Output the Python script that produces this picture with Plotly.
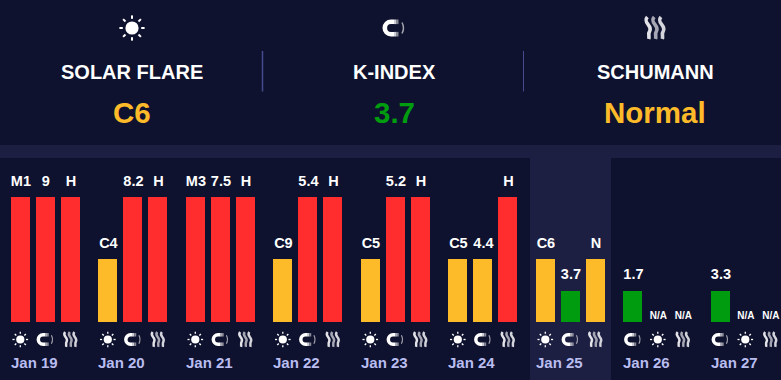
import plotly.graph_objects as go

# ---- data ----
days = ["Jan 19", "Jan 20", "Jan 21", "Jan 22", "Jan 23", "Jan 24", "Jan 25", "Jan 26", "Jan 27"]
metric_order = [
    ["sun", "magnet", "wave"], ["sun", "magnet", "wave"], ["sun", "magnet", "wave"],
    ["sun", "magnet", "wave"], ["sun", "magnet", "wave"], ["sun", "magnet", "wave"],
    ["sun", "magnet", "wave"], ["magnet", "sun", "wave"], ["magnet", "sun", "wave"],
]
levels = [
    [4, 4, 4], [2, 4, 4], [4, 4, 4], [2, 4, 4], [2, 4, 4],
    [2, 2, 4], [2, 1, 2], [1, 0, 0], [1, 0, 0],
]
labels = [
    ["M1", "9", "H"], ["C4", "8.2", "H"], ["M3", "7.5", "H"], ["C9", "5.4", "H"], ["C5", "5.2", "H"],
    ["C5", "4.4", "H"], ["C6", "3.7", "N"], ["1.7", "N/A", "N/A"], ["3.3", "N/A", "N/A"],
]
level_colors = {0: "#ff2d2d", 1: "#009c0f", 2: "#fdbb2a", 4: "#ff2d2d"}
header_titles = ["SOLAR FLARE", "K-INDEX", "SCHUMANN"]
header_values = ["C6", "3.7", "Normal"]
header_colors = ["#fdbb2a", "#009c0f", "#fdbb2a"]

BG = "#0e122e"
BAND = "#1c1f42"
W, H = 781, 380
FONT = "Liberation Sans"

# slot axis: one slot = 25 px, one day = 3.5 slots
SLOT_PX = 25.0
DAY_SLOTS = 3.5
X0_PX = 20.3
# level axis: one level = 31.1 px, baseline near 321.6 px
LEVEL_PX = 31.1
BASE_PX = 321.6


def px(x):
    return x / W


def py(y):
    return 1 - y / H


def slot_px(d, j):
    return X0_PX + SLOT_PX * (d * DAY_SLOTS + j)


def fmt(x, y):
    return f"{px(x):.5f},{py(y):.5f}"


def line(d, color, width):
    return dict(type="path", xref="paper", yref="paper", path=d, layer="above",
                line=dict(color=color, width=width), fillcolor="rgba(0,0,0,0)")


def sun(cx, cy, s):
    r = 6.6 * s
    out = [dict(type="circle", xref="paper", yref="paper", layer="above",
                x0=px(cx - r), x1=px(cx + r), y0=py(cy + r), y1=py(cy - r),
                fillcolor="#ffffff", line=dict(width=0))]
    k = 0.7071
    for ux, uy in [(1, 0), (-1, 0), (0, 1), (0, -1), (k, k), (k, -k), (-k, k), (-k, -k)]:
        a, b = 9.2 * s, 12.6 * s
        out.append(line(f"M{fmt(cx + ux * a, cy + uy * a)}L{fmt(cx + ux * b, cy + uy * b)}", "#ffffff", max(1.3, 2.0 * s)))
    return out


def magnet(cx, cy, s):
    # centre of the whole icon; C body sits to the left
    ox = cx - 3.0 * s
    R = 6.2 * s
    c = 0.55 * R
    w = 4.6 * s
    body = (f"M{fmt(ox + 3 * s, cy - R)}L{fmt(ox, cy - R)}"
            f"C{fmt(ox - c, cy - R)} {fmt(ox - R, cy - c)} {fmt(ox - R, cy)}"
            f"C{fmt(ox - R, cy + c)} {fmt(ox - c, cy + R)} {fmt(ox, cy + R)}"
            f"L{fmt(ox + 3 * s, cy + R)}")
    out = [line(body, "#ffffff", w)]
    out.append(line(f"M{fmt(ox + 3 * s, cy - R)}L{fmt(ox + 5 * s, cy - R)}", "#d0d0d8", w))
    out.append(line(f"M{fmt(ox + 3 * s, cy + R)}L{fmt(ox + 5 * s, cy + R)}", "#d0d0d8", w))
    out.append(line(f"M{fmt(ox + 5 * s, cy - R)}L{fmt(ox + 7.5 * s, cy - R)}", "#8a8a96", w))
    out.append(line(f"M{fmt(ox + 5 * s, cy + R)}L{fmt(ox + 7.5 * s, cy + R)}", "#8a8a96", w))
    out.append(line(f"M{fmt(ox + 11 * s, cy - 5.5 * s)}Q{fmt(ox + 14 * s, cy)} {fmt(ox + 11 * s, cy + 5.5 * s)}", "#a4a4b0", max(1.1, 1.5 * s)))
    return out


def wave(cx, cy, s):
    out = []
    for dx, col in [(-6.8, "#e2e2e8"), (0, "#a6a6b4"), (6.8, "#d4d4dc")]:
        x = cx + dx * s
        d = (f"M{fmt(x - 0.8 * s, cy - 11 * s)}"
             f"C{fmt(x - 6 * s, cy - 5 * s)} {fmt(x + 4.5 * s, cy - 3 * s)} {fmt(x + 1.5 * s, cy + 3 * s)}"
             f"C{fmt(x - 0.5 * s, cy + 6 * s)} {fmt(x + 1.5 * s, cy + 8 * s)} {fmt(x + 0.5 * s, cy + 11 * s)}")
        out.append(line(d, col, 3.6 * s))
    return out


ICONS = {"sun": sun, "magnet": magnet, "wave": wave}

# ---- bars ----
xs, ys, cols, txt, sizes, text_x, text_y = [], [], [], [], [], [], []
for d, day in enumerate(days):
    for j in range(3):
        xs.append(d * DAY_SLOTS + j)
        ys.append(levels[d][j])
        cols.append(level_colors[levels[d][j]])
        txt.append(labels[d][j])
        is_na = labels[d][j] == "N/A"
        sizes.append(10 if is_na else 14.5)
        text_x.append(xs[-1] + 0.6 / SLOT_PX)
        text_y.append(levels[d][j] + (4.9 if is_na else 14.9) / LEVEL_PX)

fig = go.Figure(go.Bar(
    x=xs, y=ys, width=19 / SLOT_PX,
    marker=dict(color=cols, line=dict(width=0)),
    hoverinfo="skip",
))
fig.add_trace(go.Scatter(
    x=text_x, y=text_y, mode="text", text=txt, textposition="middle center", cliponaxis=False,
    textfont=dict(family=FONT, size=sizes, color="#ffffff", weight="bold"),
    hoverinfo="skip",
))

shapes = []
# band and today's column
shapes.append(dict(type="rect", xref="paper", yref="paper", layer="below",
                   x0=0, x1=1, y0=py(158), y1=py(145), fillcolor=BAND, line=dict(width=0)))
shapes.append(dict(type="rect", xref="paper", yref="paper", layer="below",
                   x0=px(530), x1=px(611), y0=0, y1=py(158),
                   fillcolor=BAND, line=dict(width=0)))
# header separators
for sx, sw in [(262.5, 1.5), (523.5, 1)]:
    shapes.append(dict(type="line", xref="paper", yref="paper", layer="below",
                       x0=px(sx), x1=px(sx), y0=py(51), y1=py(91.5), line=dict(color="#454b8c", width=sw)))

annotations = []
hx = [132, 394, 655]
for i, name in enumerate(["sun", "magnet", "wave"]):
    shapes += ICONS[name](hx[i], 28, 1.0)
    annotations.append(dict(x=px(hx[i]), y=py(72), xref="paper", yref="paper", text=header_titles[i],
                            showarrow=False, xanchor="center", yanchor="middle",
                            font=dict(family=FONT, size=20, color="#ffffff", weight="bold")))
    annotations.append(dict(x=px(hx[i]), y=py(113), xref="paper", yref="paper", text=header_values[i],
                            showarrow=False, xanchor="center", yanchor="middle",
                            font=dict(family=FONT, size=29.5, color=header_colors[i], weight="bold")))

for d, day in enumerate(days):
    for j in range(3):
        name = metric_order[d][j]
        s = {"sun": 0.62, "magnet": 0.76, "wave": 0.68}[name]
        shapes += ICONS[name](slot_px(d, j), 339.5, s)
    annotations.append(dict(x=px(slot_px(d, 0) - 9.5), y=py(362), xref="paper", yref="paper", text=day,
                            showarrow=False, xanchor="left", yanchor="middle", xshift=-2,
                            font=dict(family=FONT, size=15, color="#b9bdf0", weight="bold")))

fig.update_layout(
    width=W, height=H, autosize=False, showlegend=False, bargap=0,
    margin=dict(l=0, r=0, t=0, b=0, pad=0),
    paper_bgcolor=BG, plot_bgcolor="rgba(0,0,0,0)",
    xaxis=dict(visible=False, range=[-X0_PX / SLOT_PX, (W - X0_PX) / SLOT_PX], fixedrange=True),
    yaxis=dict(visible=False, range=[-(H - BASE_PX) / LEVEL_PX, BASE_PX / LEVEL_PX], fixedrange=True),
    shapes=shapes, annotations=annotations,
)

fig.write_html("out.html", config=dict(displayModeBar=False),
               post_script="document.body.style.margin='0';document.body.style.overflow='hidden';document.body.style.background='%s';" % BG)
